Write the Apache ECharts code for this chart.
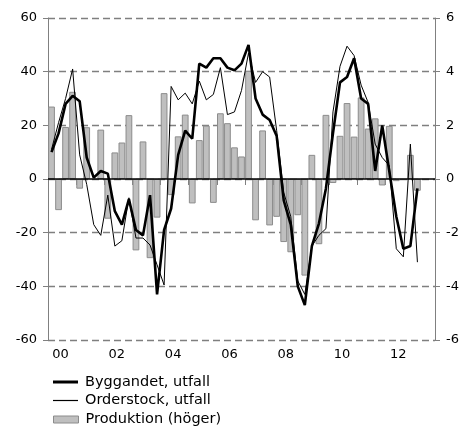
<!DOCTYPE html>
<html>
<head>
<meta charset="utf-8">
<script src="https://cdn.jsdelivr.net/npm/echarts@6/dist/echarts.min.js"></script>
<style>
html,body{margin:0;padding:0;background:#fff;}
#c{width:471px;height:426px;}
</style>
</head>
<body>
<div id="c"></div>
<script>
const quarters = [
'2000K1','2000K2','2000K3','2000K4','2001K1','2001K2','2001K3','2001K4',
'2002K1','2002K2','2002K3','2002K4','2003K1','2003K2','2003K3','2003K4',
'2004K1','2004K2','2004K3','2004K4','2005K1','2005K2','2005K3','2005K4',
'2006K1','2006K2','2006K3','2006K4','2007K1','2007K2','2007K3','2007K4',
'2008K1','2008K2','2008K3','2008K4','2009K1','2009K2','2009K3','2009K4',
'2010K1','2010K2','2010K3','2010K4','2011K1','2011K2','2011K3','2011K4',
'2012K1','2012K2','2012K3','2012K4','2013K1','2013K2','2013K3'
];
const byggandet = [
10,17,28,31,29,8,0.5,3,2,-12,-17,-7.5,-19,-21,-6,-43,
-19,-11,9,18,15,43,41.5,45,45,41.5,40.5,43,50,30,24,22,
16,-8,-17,-40,-47,-25,-16.6,-3.5,17,36,38,45,30,28,3,20,
3,-14,-26,-25,-3.5,null,null
];
const orderstock = [
11,21,30,41,9,-2,-17,-21,-6,-25,-23,-7,-22,-22,-24.6,-32,
-39.5,34.5,29.5,32,28,36.5,29.5,31.5,41.5,24,25,33,47,36,40,38,
18,-5,-14,-38,-43,-25,-21,-18.5,25,42,49.5,46,35,28.5,13,8,
5,-26,-29,13,-31,null,null
];
const produktion = [
2.7,-1.16,1.94,3.25,-0.36,1.93,null,1.84,-1.48,0.99,1.36,2.38,-2.66,1.4,-2.95,-1.44,
3.2,-0.6,1.59,2.4,-0.91,1.45,1.99,-0.89,2.45,2.08,1.18,0.84,4.03,-1.54,1.81,-1.73,
-1.41,-2.35,-2.73,-1.35,-3.6,0.9,-2.43,2.39,-0.15,1.61,2.83,1.58,3.04,1.88,2.26,-0.24,
1.98,-0.08,null,0.9,-0.44,null,null
];
const leftTicks = {min:-60, max:60, step:20};
const rightTicks = {min:-6, max:6, step:2};
const seriesNames = ['Byggandet, utfall','Orderstock, utfall','Produktion (höger)'];

const FONT = 'DejaVu Sans';
const legendText = {fontFamily:FONT, fontSize:14.5, color:'#000', padding:[0,0,0,2]};
function legendAt(top, name, h, style){
  return {orient:'vertical', left:48, top:top, itemWidth:25, itemHeight:h, itemGap:0,
    selectedMode:false, textStyle:legendText,
    data:[{name:name, icon:'rect', itemStyle:style}]};
}
const chart = echarts.init(document.getElementById('c'), null, {renderer:'canvas'});
chart.setOption({
  animation:false,
  backgroundColor:'#fff',
  grid:{left:48, right:36, top:18, bottom:86, containLabel:false},
  legend:[
    legendAt(369.5, seriesNames[0], 3, {color:'#000', borderWidth:0}),
    legendAt(388, seriesNames[1], 1.2, {color:'#000', borderWidth:0}),
    legendAt(407, seriesNames[2], 7, {color:'#bfbfbf', borderColor:'#8c8c8c', borderWidth:1})
  ],
  xAxis:{
    type:'category', data:quarters, boundaryGap:true,
    axisLine:{show:false},
    axisTick:{show:true, length:6, lineStyle:{color:'#808080', width:1},
      interval:(i)=> i % 4 === 0},
    axisLabel:{
      interval:(i,v)=> i % 4 === 1 && parseInt(v.slice(0,4)) % 2 === 0,
      formatter:(v)=> v.slice(2,4),
      fontFamily:FONT, fontSize:13, color:'#000', margin:8, padding:[0,0,0,4]
    },
    splitLine:{show:false}
  },
  yAxis:[
    {type:'value', min:leftTicks.min, max:leftTicks.max, interval:leftTicks.step, position:'left',
     axisLine:{show:true, lineStyle:{color:'#808080', width:1}},
     axisTick:{show:true, length:5, lineStyle:{color:'#808080'}},
     axisLabel:{fontFamily:FONT, fontSize:13, color:'#000', margin:11},
     splitLine:{show:true, lineStyle:{color:'#7f7f7f', width:1.3, type:[7,4]}}},
    {type:'value', min:rightTicks.min, max:rightTicks.max, interval:rightTicks.step, position:'right',
     axisLine:{show:true, lineStyle:{color:'#808080', width:1}},
     axisTick:{show:true, length:5, lineStyle:{color:'#808080'}},
     axisLabel:{fontFamily:FONT, fontSize:13, color:'#000', margin:11},
     splitLine:{show:false}}
  ],
  series:[
    {name:seriesNames[2], type:'bar', yAxisIndex:1, data:produktion, barCategoryGap:'4%',
     itemStyle:{color:'#bfbfbf', borderColor:'#8c8c8c', borderWidth:1}, z:2},
    {name:seriesNames[1], type:'line', yAxisIndex:0, data:orderstock, symbol:'none',
     lineStyle:{color:'#000', width:1}, itemStyle:{color:'#000'}, z:3,
     markLine:{silent:true, symbol:['none','none'], label:{show:false},
       lineStyle:{color:'#000', width:1.5, type:'solid'}, data:[{yAxis:0}]}},
    {name:seriesNames[0], type:'line', yAxisIndex:0, data:byggandet, symbol:'none',
     lineStyle:{color:'#000', width:2.6}, itemStyle:{color:'#000'}, z:4}
  ]
});
</script>
</body>
</html>
